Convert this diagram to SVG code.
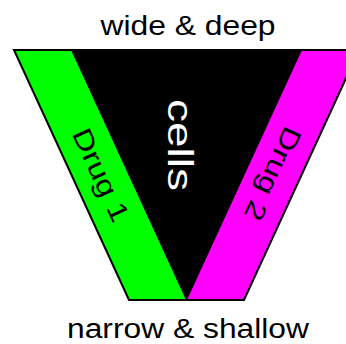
<svg xmlns="http://www.w3.org/2000/svg" width="346" height="344" viewBox="0 0 346 344">
<style>
.lbl{font-family:"Liberation Sans",Arial,Helvetica,sans-serif;font-size:27px;fill:#000;text-anchor:middle}
.white{fill:#fff}
</style>
<rect width="346" height="344" fill="#fff"/>
<g id="drug1">
<polygon points="14,50 71.5,50 186.5,300 129,300" fill="#00ff00"/>
<text class="lbl" transform="translate(92.5,179) rotate(65.3)" x="0" y="0" textLength="100" lengthAdjust="spacingAndGlyphs">Drug 1</text>
</g>
<g id="drug2">
<polygon points="301.5,50 359,50 244,300 186.5,300" fill="#ff00ff"/>
<text class="lbl" transform="translate(264.5,170) rotate(114.7)" x="0" y="0" textLength="100" lengthAdjust="spacingAndGlyphs">Drug 2</text>
</g>
<g id="cells">
<polygon points="71.5,50 301.5,50 186.5,300" fill="#000" stroke="#000" stroke-width="1"/>
<text class="lbl white" style="font-size:35px" transform="translate(168,145) rotate(90)" x="0" y="0" textLength="92" lengthAdjust="spacingAndGlyphs">cells</text>
</g>
<g id="outline">
<polygon points="14,50 359,50 244,300 129,300" fill="none" stroke="#000" stroke-width="2"/>
</g>
<g id="labels">
<text class="lbl" x="188" y="34.5" textLength="175" lengthAdjust="spacingAndGlyphs">wide &amp; deep</text>
<text class="lbl" x="188" y="338" textLength="242" lengthAdjust="spacingAndGlyphs">narrow &amp; shallow</text>
</g>
</svg>
